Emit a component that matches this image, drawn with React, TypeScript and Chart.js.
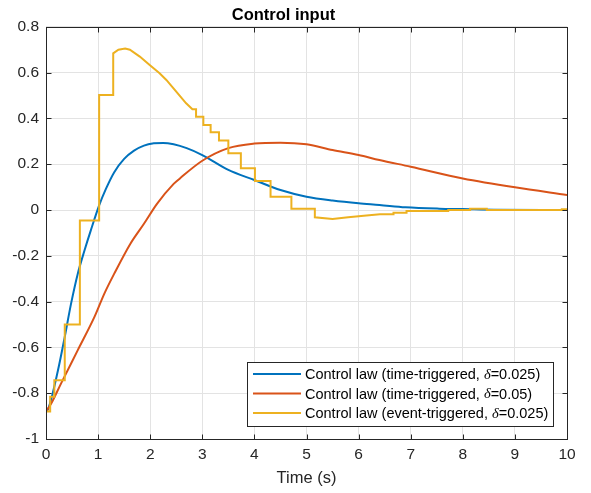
import React, { useEffect, useRef } from "react";
import { Chart, registerables } from "chart.js";

Chart.register(...registerables);

const FONT = '"Liberation Sans", Arial, Helvetica, sans-serif';
const AXIS_COLOR = "#262626";

const titleText = "Control input";
const xTitle = "Time (s)";
const xTicks = [0, 1, 2, 3, 4, 5, 6, 7, 8, 9, 10];
const yTicks = [-1, -0.8, -0.6, -0.4, -0.2, 0, 0.2, 0.4, 0.6, 0.8];

// time-triggered, delta = 0.025
const fineT = [0, 0.04, 0.23, 0.36, 0.48, 0.61, 0.74, 0.86, 1.02, 1.15, 1.31, 1.5, 1.69, 1.88, 2.07, 2.25, 2.45, 2.7, 3.0, 3.5, 4.0, 4.5, 5.0, 5.5, 6.0, 6.4, 6.9, 7.55, 8.0, 8.6, 10];
const fineU = [-0.88, -0.87, -0.7, -0.554, -0.41, -0.278, -0.176, -0.089, 0.02, 0.092, 0.165, 0.223, 0.259, 0.281, 0.291, 0.293, 0.287, 0.27, 0.24, 0.175, 0.131, 0.087, 0.058, 0.041, 0.029, 0.022, 0.012, 0.006, 0.004, 0.001, 0.0];

// time-triggered, delta = 0.05
const coarseT = [0, 0.1, 0.29, 0.61, 0.93, 1.12, 1.31, 1.62, 1.88, 2.13, 2.45, 2.57, 3.0, 3.5, 4.0, 4.5, 5.0, 5.5, 6.0, 6.4, 7.0, 8.0, 9.0, 10];
const coarseU = [-0.88, -0.845, -0.757, -0.612, -0.467, -0.365, -0.278, -0.147, -0.06, 0.027, 0.114, 0.138, 0.215, 0.27, 0.29, 0.294, 0.287, 0.262, 0.24, 0.218, 0.189, 0.138, 0.099, 0.066];

// event-triggered, delta = 0.025 ; eventJump = 1 where the held value jumps
const eventT = [0, 0.08, 0.16, 0.36, 0.65, 1.02, 1.29, 1.39, 1.52, 1.61, 1.8, 1.99, 2.18, 2.31, 2.5, 2.69, 2.81, 2.88, 3.02, 3.16, 3.32, 3.5, 3.74, 4.01, 4.31, 4.71, 5.16, 5.5, 5.8, 6.1, 6.41, 6.67, 6.92, 7.72, 8.14, 8.46, 9.9, 10];
const eventU = [-0.88, -0.815, -0.743, -0.5, -0.046, 0.502, 0.684, 0.7, 0.705, 0.7, 0.67, 0.633, 0.597, 0.568, 0.517, 0.466, 0.44, 0.407, 0.371, 0.34, 0.303, 0.248, 0.182, 0.127, 0.058, 0.006, -0.032, -0.039, -0.032, -0.025, -0.019, -0.012, -0.004, 0.0, 0.006, 0.0, 0.003, 0.003];
const eventJump = [0, 1, 1, 1, 1, 1, 1, 0, 0, 0, 0, 0, 0, 0, 0, 0, 0, 1, 1, 1, 1, 1, 1, 1, 1, 1, 1, 0, 0, 0, 0, 1, 1, 1, 1, 1, 1, 0];

const legendParts = [
  ["Control law (time-triggered, ", "δ", "=0.025)"],
  ["Control law (time-triggered, ", "δ", "=0.05)"],
  ["Control law (event-triggered, ", "δ", "=0.025)"],
];
const seriesColors = ["#0072BD", "#D95319", "#EDB120"];

function toPoints(t: number[], u: number[]) {
  return t.map((x, i) => ({ x, y: u[i] }));
}

function eventPoints() {
  const pts: { x: number; y: number }[] = [];
  eventT.forEach((x, i) => {
    if (i > 0 && eventJump[i]) pts.push({ x, y: eventU[i - 1] });
    pts.push({ x, y: eventU[i] });
  });
  return pts;
}

const framePlugin = {
  id: "frameAndLegend",
  afterDatasetsDraw(chart: any) {
    const { ctx, chartArea: a, scales } = chart;
    const L = Math.round(a.left) + 0.5;
    const R = Math.round(a.right) + 0.5;
    const T = Math.round(a.top) + 0.5;
    const B = Math.round(a.bottom) + 0.5;
    ctx.save();
    ctx.strokeStyle = AXIS_COLOR;
    ctx.lineWidth = 1;
    ctx.strokeRect(L, T, R - L, B - T);
    const tl = 5;
    ctx.beginPath();
    xTicks.forEach((v) => {
      const px = Math.round(scales.x.getPixelForValue(v)) + 0.5;
      ctx.moveTo(px, B);
      ctx.lineTo(px, B - tl);
      ctx.moveTo(px, T);
      ctx.lineTo(px, T + tl);
    });
    yTicks.forEach((v) => {
      const py = Math.round(scales.y.getPixelForValue(v)) + 0.5;
      ctx.moveTo(L, py);
      ctx.lineTo(L + tl, py);
      ctx.moveTo(R, py);
      ctx.lineTo(R - tl, py);
    });
    ctx.stroke();

    // legend
    const normal = `14.5px ${FONT}`;
    const ital = `italic 14.5px "Liberation Serif", "DejaVu Serif", serif`;
    const widths = legendParts.map((p) => {
      ctx.font = normal;
      let w = ctx.measureText(p[0]).width + ctx.measureText(p[2]).width;
      ctx.font = ital;
      w += ctx.measureText(p[1]).width;
      return w;
    });
    const maxW = Math.max(...widths);
    const boxW = Math.round(58 + maxW + 5);
    const boxH = 64;
    const right = Math.round(a.right) - 14;
    const bottom = Math.round(a.bottom) - 13;
    const left = right - boxW;
    const top = bottom - boxH;
    ctx.fillStyle = "#ffffff";
    ctx.fillRect(left + 0.5, top + 0.5, boxW, boxH);
    ctx.strokeStyle = AXIS_COLOR;
    ctx.lineWidth = 1;
    ctx.strokeRect(left + 0.5, top + 0.5, boxW, boxH);
    legendParts.forEach((p, i) => {
      const cy = top + 13 + i * 19.5;
      ctx.strokeStyle = seriesColors[i];
      ctx.lineWidth = 2;
      ctx.beginPath();
      ctx.moveTo(left + 6, cy - 1);
      ctx.lineTo(left + 54, cy - 1);
      ctx.stroke();
      ctx.fillStyle = "#000000";
      ctx.textBaseline = "middle";
      ctx.textAlign = "left";
      let x = left + 58;
      ctx.font = normal;
      ctx.fillText(p[0], x, cy);
      x += ctx.measureText(p[0]).width;
      ctx.font = ital;
      ctx.fillText(p[1], x, cy);
      x += ctx.measureText(p[1]).width;
      ctx.font = normal;
      ctx.fillText(p[2], x, cy);
    });
    ctx.restore();
  },
};

export default function App() {
  const ref = useRef<HTMLCanvasElement | null>(null);
  useEffect(() => {
    if (!ref.current) return;
    const chart = new Chart(ref.current, {
      type: "line",
      data: {
        datasets: [
          {
            label: "tt0025",
            data: toPoints(fineT, fineU),
            borderColor: seriesColors[0],
            borderWidth: 2,
            pointRadius: 0,
            fill: false,
            cubicInterpolationMode: "monotone",
            order: 2,
          },
          {
            label: "tt005",
            data: toPoints(coarseT, coarseU),
            borderColor: seriesColors[1],
            borderWidth: 2,
            pointRadius: 0,
            fill: false,
            cubicInterpolationMode: "monotone",
            order: 1,
          },
          {
            label: "et0025",
            data: eventPoints(),
            borderColor: seriesColors[2],
            borderWidth: 2,
            pointRadius: 0,
            fill: false,
            order: 0,
          },
        ],
      },
      options: {
        animation: false,
        responsive: false,
        parsing: false as any,
        layout: { padding: { left: 0, right: 24, top: 0, bottom: 0 } },
        plugins: {
          legend: { display: false },
          tooltip: { enabled: false },
          title: {
            display: true,
            text: titleText,
            color: "#000000",
            font: { family: FONT, size: 16.5, weight: "bold" },
            padding: { top: 6, bottom: 1 },
          },
        },
        scales: {
          x: {
            type: "linear",
            min: 0,
            max: 10,
            afterBuildTicks: (s: any) => {
              s.ticks = xTicks.map((v) => ({ value: v }));
            },
            afterFit: (s: any) => {
              s.height = 54;
            },
            ticks: {
              color: AXIS_COLOR,
              font: { family: FONT, size: 15.5 },
              padding: 6,
              maxRotation: 0,
              autoSkip: false,
              callback: (v: any) => String(v),
            },
            grid: { color: "#e3e3e3", drawTicks: false },
            border: { display: false },
            title: {
              display: true,
              text: xTitle,
              color: AXIS_COLOR,
              font: { family: FONT, size: 16.5 },
              padding: { top: 0, bottom: 5 },
            },
          },
          y: {
            type: "linear",
            min: -1,
            max: 0.8,
            afterBuildTicks: (s: any) => {
              s.ticks = yTicks.map((v) => ({ value: v }));
            },
            afterFit: (s: any) => {
              s.width = 46;
            },
            ticks: {
              color: AXIS_COLOR,
              font: { family: FONT, size: 15.5 },
              padding: 7,
              autoSkip: false,
              callback: (v: any) => String(Math.round(Number(v) * 10) / 10),
            },
            grid: { color: "#e3e3e3", drawTicks: false },
            border: { display: false },
          },
        },
      },
      plugins: [framePlugin],
    });
    return () => chart.destroy();
  }, []);

  return (
    <div style={{ position: "fixed", left: 0, top: 0, width: 591, height: 493, background: "#ffffff" }}>
      <canvas ref={ref} width={591} height={493} />
    </div>
  );
}
